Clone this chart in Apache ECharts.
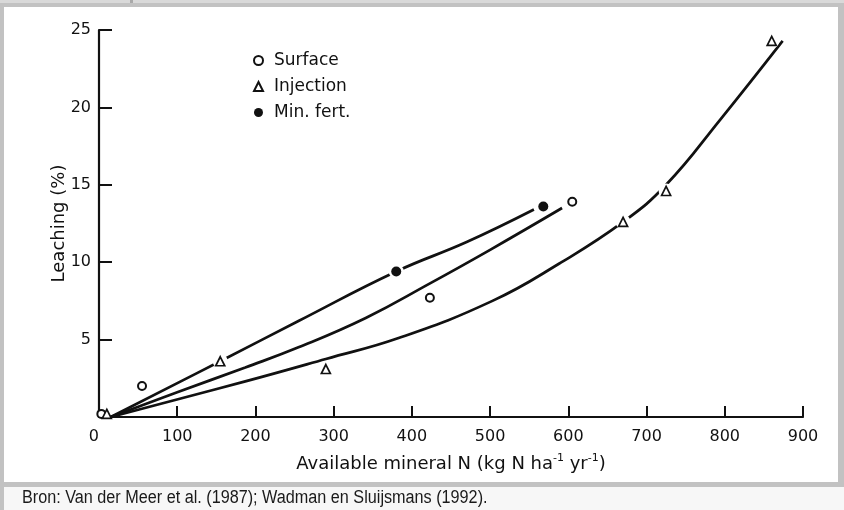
<!DOCTYPE html>
<html>
<head>
<meta charset="utf-8">
<title>Leaching vs available mineral N</title>
<script src="https://cdn.jsdelivr.net/npm/echarts@6/dist/echarts.min.js"></script>
<style>
  html, body { margin: 0; padding: 0; background: #c2c2c2; }
  #chart { width: 844px; height: 510px; }
</style>
</head>
<body>
<div id="chart"></div>
<script>
// measured points
var surfaceX = [3, 55, 423, 605];
var surfaceY = [0.2, 2.0, 7.7, 13.9];
var injectionX = [10, 155, 290, 670, 725, 860];
var injectionY = [0.2, 3.6, 3.1, 12.6, 14.6, 24.3];
var minFertX = [380, 568];
var minFertY = [9.4, 13.6];

// the three fitted curves
var topCurveX = [15, 155, 255, 380, 470, 556];
var topCurveY = [0, 3.6, 6.2, 9.4, 11.3, 13.4];
var midCurveX = [15, 100, 187, 255, 341, 422, 500, 592];
var midCurveY = [0, 1.6, 3.2, 4.5, 6.4, 8.6, 10.8, 13.5];
var lowCurveX = [15, 187, 290, 383, 503, 588, 670, 725, 794, 874];
var lowCurveY = [0, 2.3, 3.75, 5.1, 7.5, 9.9, 12.6, 15.0, 19.2, 24.3];

var legendNames = ['Surface', 'Injection', 'Min. fert.'];
var caption = 'Bron: Van der Meer et al. (1987); Wadman en Sluijsmans (1992).';

var font = 'DejaVu Sans';
var ink = '#111';

function zip(xs, ys) {
    var out = [];
    for (var i = 0; i < xs.length; i++) out.push([xs[i], ys[i]]);
    return out;
}

// white patches under the markers so the curves break around them
var halo = zip(surfaceX, surfaceY).concat(zip(injectionX, injectionY), zip(minFertX, minFertY))
    .filter(function (p) { return p[0] > 20; });

function curve(xs, ys) {
    return {
        type: 'line',
        data: zip(xs, ys),
        showSymbol: false,
        smooth: 0.45,
        silent: true,
        z: 2,
        lineStyle: { color: ink, width: 2.7 }
    };
}

var myChart = echarts.init(document.getElementById('chart'));
var option = {
    animation: false,
    textStyle: { fontFamily: font },
    grid: { left: 99, right: 41, top: 30, bottom: 93, containLabel: false, outerBoundsMode: 'none' },
    legend: {
        data: legendNames,
        orient: 'vertical',
        left: 253,
        top: 52,
        padding: 0,
        itemGap: 9,
        itemWidth: 9,
        itemHeight: 9,
        textStyle: { fontSize: 17, color: ink, fontFamily: font, padding: [0, 0, 0, 6] }
    },
    xAxis: {
        type: 'value',
        min: 0,
        max: 900,
        interval: 100,
        axisLine: { show: true, onZero: false, lineStyle: { color: ink, width: 2.2 } },
        axisTick: { show: true, inside: true, length: 11, lineStyle: { color: ink, width: 2 } },
        axisLabel: { fontSize: 16, color: ink, margin: 12, fontFamily: font, alignMinLabel: 'right' },
        splitLine: { show: false },
        name: 'Available mineral N (kg N ha{sup|-1} yr{sup|-1})',
        nameLocation: 'middle',
        nameGap: 36,
        nameMoveOverlap: false,
        nameTextStyle: {
            fontSize: 18, color: ink, fontFamily: font,
            rich: { sup: { fontSize: 11, color: ink, fontFamily: font, padding: [0, 0, 11, 0] } }
        }
    },
    yAxis: {
        type: 'value',
        min: 0,
        max: 25,
        interval: 5,
        axisLine: { show: true, onZero: false, lineStyle: { color: ink, width: 2.2 } },
        axisTick: { show: true, inside: true, length: 13, lineStyle: { color: ink, width: 2 } },
        axisLabel: { fontSize: 16, color: ink, margin: 8, fontFamily: font, showMinLabel: false },
        splitLine: { show: false },
        name: 'Leaching (%)',
        nameLocation: 'middle',
        nameGap: 31,
        nameMoveOverlap: false,
        nameTextStyle: { fontSize: 18, color: ink, fontFamily: font }
    },
    graphic: [
        { type: 'rect', z: -10, silent: true, shape: { x: 0, y: 0, width: 844, height: 3 }, style: { fill: '#d9d9d9' } },
        { type: 'rect', z: -9, silent: true, shape: { x: 130, y: 0, width: 3, height: 3 }, style: { fill: '#a9a9a9' } },
        { type: 'rect', z: -10, silent: true, shape: { x: 4, y: 7, width: 834, height: 475 }, style: { fill: '#ffffff' } },
        { type: 'rect', z: -10, silent: true, shape: { x: 4, y: 487, width: 840, height: 23 }, style: { fill: '#f7f7f7' } },
        {
            type: 'text', z: 10, silent: true, x: 22, y: 498, scaleX: 0.9,
            style: {
                text: caption, fill: '#1a1a1a', fontSize: 18,
                fontFamily: '"Liberation Sans", sans-serif',
                verticalAlign: 'middle'
            }
        }
    ],
    series: [
        curve(topCurveX, topCurveY),
        curve(midCurveX, midCurveY),
        curve(lowCurveX, lowCurveY),
        {
            type: 'scatter', data: halo, symbol: 'circle', symbolSize: 15, silent: true, z: 3,
            itemStyle: { color: '#ffffff', borderWidth: 0, opacity: 1 }
        },
        {
            name: 'Surface', type: 'scatter', data: zip(surfaceX, surfaceY), z: 4,
            symbol: 'emptyCircle', symbolSize: 8,
            itemStyle: { color: ink, borderColor: ink, borderWidth: 1.7, opacity: 1 }
        },
        {
            name: 'Injection', type: 'scatter', data: zip(injectionX, injectionY), z: 4,
            symbol: 'triangle', symbolSize: 9,
            itemStyle: { color: '#ffffff', borderColor: ink, borderWidth: 1.7, opacity: 1 }
        },
        {
            name: 'Min. fert.', type: 'scatter', data: zip(minFertX, minFertY), z: 4,
            symbol: 'circle', symbolSize: 10,
            itemStyle: { color: ink, opacity: 1 }
        }
    ]
};
myChart.setOption(option);
</script>
</body>
</html>
